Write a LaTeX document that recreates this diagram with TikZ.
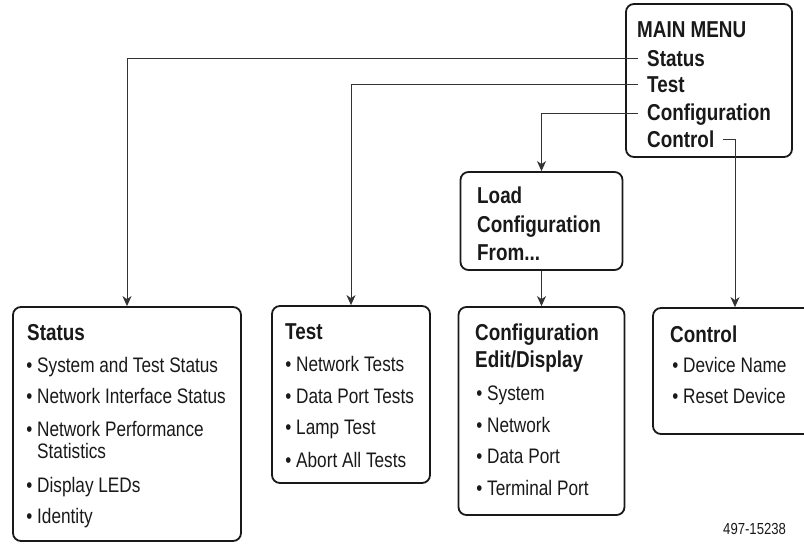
\documentclass[tikz,border=0pt]{standalone}
\usepackage{fontspec}
\setmainfont{Liberation Sans}[FakeStretch=0.82]
\usetikzlibrary{arrows.meta}
\begin{document}
\begin{tikzpicture}[x=1pt,y=-1pt,
  box/.style={draw=black!90, line width=1.8pt, rounded corners=8pt, inner sep=0pt},
  ttl/.style={anchor=base west, inner sep=0pt, text=black!90, font=\fontsize{23}{27}\selectfont\bfseries},
  itm/.style={anchor=base west, inner sep=0pt, text=black!90, font=\fontsize{21}{25}\selectfont},
  menu/.style={ttl, text height=15pt, text depth=0pt},
  conn/.style={draw=black!80, line width=0.9pt, -{Stealth[length=10pt,width=9pt,inset=3pt]}}]
\useasboundingbox (0,0) rectangle (804,544);

% boxes
\node[box, minimum width=166pt, minimum height=153pt] (mainbox) at (709,80.5) {};
\node[box, minimum width=228pt, minimum height=234pt] (statusbox) at (127,424) {};
\node[box, minimum width=158pt, minimum height=177pt] (testbox) at (351,394.5) {};
\node[box, minimum width=162pt, minimum height=98pt] (loadbox) at (541.5,221) {};
\node[box, minimum width=166pt, minimum height=208pt] (cfgbox) at (541.5,411) {};
\node[box, minimum width=164pt, minimum height=126pt] (ctrlbox) at (735,371) {};

% main menu
\node[ttl] (mtitle) at (637,37) {MAIN MENU};
\node[menu] (mstatus) at (647,66) {Status};
\node[menu] (mtest) at (647,92) {Test};
\node[menu] (mcfg) at (647,120.5) {Configuration};
\node[menu] (mctrl) at (647,147) {Control};

% load box
\node[ttl] (l1) at (477,203) {Load};
\node[ttl] (l2) at (477,232) {Configuration};
\node[ttl] (l3) at (477,260) {From...};

% status box
\node[ttl] (st) at (27,340) {Status};
\node[itm] (s1) at (37,372) {\llap{\textbullet\ }System and Test Status};
\node[itm] (s2) at (37,403) {\llap{\textbullet\ }Network Interface Status};
\node[itm] (s3) at (37,436) {\llap{\textbullet\ }Network Performance};
\node[itm] (s3b) at (37,458) {Statistics};
\node[itm] (s4) at (37,492) {\llap{\textbullet\ }Display LEDs};
\node[itm] (s5) at (37,523) {\llap{\textbullet\ }Identity};

% test box
\node[ttl] (tt) at (285,339) {Test};
\node[itm] (t1) at (296,371) {\llap{\textbullet\ }Network Tests};
\node[itm] (t2) at (296,403) {\llap{\textbullet\ }Data Port Tests};
\node[itm] (t3) at (296,434) {\llap{\textbullet\ }Lamp Test};
\node[itm] (t4) at (296,467) {\llap{\textbullet\ }Abort All Tests};

% configuration box
\node[ttl] (ct1) at (475,340) {Configuration};
\node[ttl] (ct2) at (475,367) {Edit/Display};
\node[itm] (c1) at (487,400) {\llap{\textbullet\ }System};
\node[itm] (c2) at (487,432) {\llap{\textbullet\ }Network};
\node[itm] (c3) at (487,463) {\llap{\textbullet\ }Data Port};
\node[itm] (c4) at (487,495) {\llap{\textbullet\ }Terminal Port};

% control box
\node[ttl] (kt) at (670,342) {Control};
\node[itm] (k1) at (683,372) {\llap{\textbullet\ }Device Name};
\node[itm] (k2) at (683,403) {\llap{\textbullet\ }Reset Device};

% figure number
\node[anchor=base west, inner sep=0pt, text=black!90, font=\fontsize{16}{19}\selectfont] (fignum) at (723,534) {497-15238};

% connectors
\draw[conn] ([xshift=-9pt]mstatus.west) -| (statusbox.north);
\draw[conn] ([xshift=-9pt]mtest.west) -| (testbox.north);
\draw[conn] ([xshift=-9pt]mcfg.west) -| (loadbox.north);
\draw[conn] ([xshift=9pt]mctrl.east) -| (ctrlbox.north);
\draw[conn] (loadbox.south) -- (cfgbox.north);
\end{tikzpicture}
\end{document}
